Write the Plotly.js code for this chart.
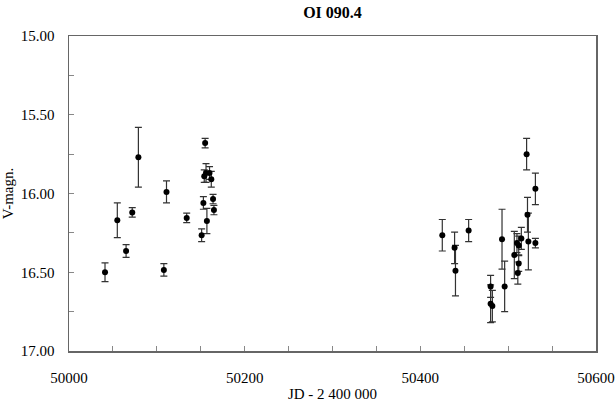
<!DOCTYPE html>
<html>
<head>
<meta charset="utf-8">
<script src="https://cdn.plot.ly/plotly-3.0.1.min.js"></script>
<style>html,body{margin:0;padding:0;background:#fff;}#chart{width:616px;height:402px;}</style>
</head>
<body>
<div id="chart"></div>
<script>
const jd = [50041, 50055, 50065, 50072, 50079, 50108, 50111, 50134, 50151, 50153, 50155, 50154, 50156, 50160, 50162, 50157, 50164, 50165,
            50425, 50439, 50440, 50455, 50480, 50480, 50482, 50493, 50496, 50507, 50510, 50512, 50515, 50512, 50511, 50521, 50522, 50523, 50531, 50531];
const vmag = [16.50, 16.17, 16.365, 16.12, 15.77, 16.485, 15.99, 16.155, 16.265, 16.06, 15.68, 15.89, 15.87, 15.87, 15.91, 16.175, 16.035, 16.105,
              16.265, 16.345, 16.49, 16.235, 16.59, 16.70, 16.715, 16.29, 16.59, 16.39, 16.315, 16.33, 16.285, 16.445, 16.505, 15.75, 16.135, 16.305, 15.97, 16.315];
const verr = [0.06, 0.11, 0.04, 0.03, 0.19, 0.04, 0.07, 0.03, 0.04, 0.04, 0.03, 0.04, 0.06, 0.04, 0.05, 0.08, 0.03, 0.03,
              0.10, 0.10, 0.16, 0.07, 0.07, 0.12, 0.10, 0.19, 0.16, 0.15, 0.06, 0.06, 0.07, 0.05, 0.07, 0.10, 0.11, 0.18, 0.10, 0.03];

const font = {family: '"Liberation Serif", "Times New Roman", serif', color: '#000', size: 15};

Plotly.newPlot('chart', [{
  x: jd, y: vmag, type: 'scatter', mode: 'markers',
  marker: {color: '#000', size: 6},
  error_y: {type: 'data', array: verr, visible: true, color: '#333', thickness: 1.2, width: 3.5}
}], {
  width: 616, height: 402,
  margin: {l: 69, r: 20, t: 36, b: 51},
  paper_bgcolor: '#fff', plot_bgcolor: '#fff',
  font: font,
  showlegend: false,
  title: {text: '<b>OI 090.4</b>', font: {family: font.family, size: 16, color: '#000'}, xref: 'paper', x: 0.5, xanchor: 'center', yref: 'container', y: 0.97, yanchor: 'middle'},
  xaxis: {
    range: [50000, 50600], dtick: 200, tick0: 50000, tickformat: 'd',
    showgrid: false, zeroline: false,
    showline: true, linecolor: '#666', linewidth: 1.5, mirror: true,
    ticks: 'inside', ticklen: 5, tickcolor: '#888',
    minor: {dtick: 50, ticks: 'inside', ticklen: 5, tickcolor: '#888', showgrid: false},
    ticklabelstandoff: 12,
    tickfont: font,
    title: {text: 'JD - 2 400 000', font: font, standoff: 4}
  },
  yaxis: {
    range: [17, 15], dtick: 0.5, tick0: 15, tickformat: '.2f',
    showgrid: false, zeroline: false,
    showline: true, linecolor: '#666', linewidth: 1.5, mirror: true,
    ticks: 'inside', ticklen: 5, tickcolor: '#888',
    minor: {dtick: 0.25, ticks: 'inside', ticklen: 5, tickcolor: '#888', showgrid: false},
    ticklabelstandoff: 10,
    tickfont: font,
    title: {text: 'V-magn.', font: font, standoff: 4}
  }
}, {staticPlot: true});
</script>
</body>
</html>
